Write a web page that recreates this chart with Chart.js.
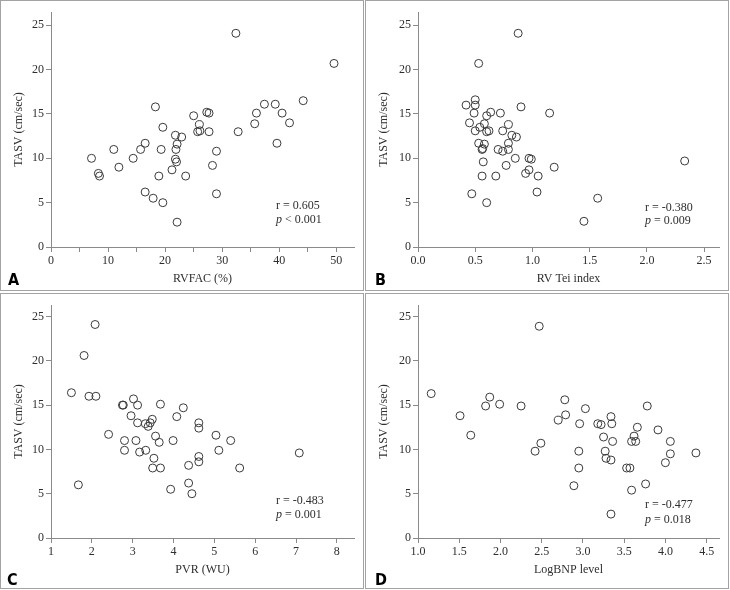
<!DOCTYPE html>
<html>
<head>
<meta charset="utf-8">
<script src="https://cdn.jsdelivr.net/npm/chart.js@4.4.0/dist/chart.umd.min.js"></script>
<style>
body { margin: 0; background: #fff; }
#wrap { position: relative; width: 730px; height: 590px; }
.panel { position: absolute; border: 1.5px solid #a3a3a3; box-sizing: border-box; }
canvas { position: absolute; }
</style>
</head>
<body>
<div id="wrap">
  <div class="panel" style="left:0;top:0;width:364px;height:291px"></div>
  <div class="panel" style="left:365px;top:0;width:364px;height:291px"></div>
  <div class="panel" style="left:0;top:293px;width:364px;height:296px"></div>
  <div class="panel" style="left:365px;top:293px;width:364px;height:296px"></div>
  <canvas id="chartA" width="364" height="291" style="left:0;top:0"></canvas>
  <canvas id="chartB" width="364" height="291" style="left:365px;top:0"></canvas>
  <canvas id="chartC" width="364" height="296" style="left:0;top:293px"></canvas>
  <canvas id="chartD" width="364" height="296" style="left:365px;top:293px"></canvas>
</div>
<script>
// A: RVFAC vs TASV
const rvfac = [32.4, 49.6, 44.2, 37.4, 39.3, 18.3, 27.3, 27.7, 36.0, 40.5, 25.0, 41.8, 35.7, 26.0, 19.6,
  25.7, 26.1, 27.7, 32.8, 21.8, 22.9, 16.5, 22.1, 39.6, 11.0, 15.7, 19.3, 21.9, 29.0, 7.1, 14.4, 21.8,
  22.0, 11.9, 28.3, 21.2, 8.3, 8.5, 18.9, 23.6, 16.5, 29.0, 17.9, 19.6, 22.1];
const tasvA = [24.1, 20.7, 16.5, 16.1, 16.1, 15.8, 15.2, 15.1, 15.1, 15.1, 14.8, 14.0, 13.9, 13.8, 13.5,
  13.0, 13.1, 13.0, 13.0, 12.6, 12.4, 11.7, 11.6, 11.7, 11.0, 11.0, 11.0, 11.0, 10.8, 10.0, 10.0, 9.9,
  9.6, 9.0, 9.2, 8.7, 8.3, 8.0, 8.0, 8.0, 6.2, 6.0, 5.5, 5.0, 2.8];

// B: RV Tei index vs TASV
const teiIndex = [0.875, 0.53, 0.50, 0.42, 0.50, 0.90, 0.49, 0.635, 0.72, 1.15, 0.60, 0.45, 0.58, 0.79,
  0.54, 0.50, 0.62, 0.60, 0.74, 0.82, 0.86, 0.53, 0.58, 0.79, 0.56, 0.70, 0.79, 0.74, 0.565, 0.85, 0.97,
  0.99, 0.57, 1.19, 0.77, 0.97, 0.94, 0.56, 0.68, 1.05, 1.04, 0.47, 1.57, 0.60, 1.45, 2.33];
const tasvB = [24.1, 20.7, 16.6, 16.0, 16.0, 15.8, 15.1, 15.2, 15.1, 15.1, 14.8, 14.0, 13.9, 13.8,
  13.5, 13.1, 13.1, 13.0, 13.1, 12.6, 12.4, 11.7, 11.6, 11.7, 11.0, 11.0, 11.0, 10.8, 11.1, 10.0, 10.0,
  9.9, 9.6, 9.0, 9.2, 8.7, 8.3, 8.0, 8.0, 8.0, 6.2, 6.0, 5.5, 5.0, 2.9, 9.7];

// C: PVR vs TASV
const pvr = [2.08, 1.81, 1.50, 1.93, 2.10, 2.75, 2.77, 3.02, 3.12, 3.68, 4.24, 2.96, 4.08, 3.48, 3.12,
  3.31, 3.43, 3.38, 4.62, 4.62, 2.41, 3.56, 5.04, 2.80, 3.08, 3.99, 5.40, 3.65, 2.80, 3.32, 5.11, 3.17,
  7.08, 3.52, 4.62, 4.62, 3.49, 3.68, 4.37, 5.62, 1.67, 4.37, 3.93, 4.45];
const tasvC = [24.1, 20.6, 16.4, 16.0, 16.0, 15.0, 15.0, 15.7, 15.0, 15.1, 14.7, 13.8, 13.7, 13.4, 13.0,
  12.9, 13.0, 12.6, 13.0, 12.4, 11.7, 11.5, 11.6, 11.0, 11.0, 11.0, 11.0, 10.8, 9.9, 9.9, 9.9, 9.7,
  9.6, 9.0, 9.2, 8.6, 7.9, 7.9, 8.2, 7.9, 6.0, 6.2, 5.5, 5.0];

// D: LogBNP vs TASV
const logBnp = [2.47, 1.16, 1.87, 1.82, 1.99, 2.25, 2.78, 3.78, 3.03, 1.51, 2.79, 2.70, 2.96, 3.18, 3.22,
  3.34, 3.35, 3.66, 3.91, 1.64, 3.25, 3.62, 2.49, 3.36, 3.59, 3.64, 4.06, 2.42, 2.95, 3.27, 3.28, 3.34,
  4.06, 4.37, 4.00, 2.95, 3.53, 3.57, 2.89, 3.76, 3.59, 3.34];
const tasvD = [23.9, 16.3, 15.9, 14.9, 15.1, 14.9, 15.6, 14.9, 14.6, 13.8, 13.9, 13.3, 12.9, 12.9, 12.8,
  13.7, 12.9, 12.5, 12.2, 11.6, 11.4, 11.5, 10.7, 10.9, 10.9, 10.9, 10.9, 9.8, 9.8, 9.8, 9.0, 8.8,
  9.5, 9.6, 8.5, 7.9, 7.9, 7.9, 5.9, 6.1, 5.4, 2.7];

const yTicks = [0, 5, 10, 15, 20, 25];
const statsText = {
  A: ['r = 0.605', 'p', ' < 0.001'],
  B: ['r = -0.380', 'p', ' = 0.009'],
  C: ['r = -0.483', 'p', ' = 0.001'],
  D: ['r = -0.477', 'p', ' = 0.018']
};

const SERIF = "'Liberation Serif', 'DejaVu Serif', serif";
const AXIS_COLOR = '#8a8a8a';
const TEXT_COLOR = '#2e2e2e';

function makeScatter(id, cfg) {
    const ctx = document.getElementById(id);
    const points = cfg.x.map((v, i) => ({ x: v, y: cfg.y[i] }));

    // r / p text and panel letter
    const overlay = {
        id: 'overlay' + id,
        afterDraw(chart) {
            const c = chart.ctx;
            c.save();
            c.fillStyle = TEXT_COLOR;
            c.textBaseline = 'middle';
            c.textAlign = 'left';
            c.font = '12px ' + SERIF;
            c.fillText(cfg.stats[0], cfg.statX, cfg.statY);
            c.font = 'italic 12px ' + SERIF;
            c.fillText(cfg.stats[1], cfg.statX, cfg.statY + cfg.statGap);
            const w = c.measureText(cfg.stats[1]).width;
            c.font = '12px ' + SERIF;
            c.fillText(cfg.stats[2], cfg.statX + w, cfg.statY + cfg.statGap);

            c.fillStyle = '#000';
            c.textBaseline = 'alphabetic';
            c.font = "bold 16px 'Liberation Sans Narrow', 'DejaVu Sans Condensed', sans-serif";
            c.fillText(cfg.letter, cfg.letterX, cfg.letterY);
            c.restore();
        }
    };

    new Chart(ctx, {
        type: 'scatter',
        data: {
            datasets: [{
                data: points,
                pointStyle: 'circle',
                pointRadius: 4,
                pointHoverRadius: 4,
                pointBorderWidth: 1,
                borderColor: '#3a3a3a',
                backgroundColor: 'rgba(0,0,0,0)'
            }]
        },
        options: {
            responsive: false,
            animation: false,
            events: [],
            layout: { padding: { left: 0, top: cfg.top, right: cfg.right, bottom: 0 } },
            plugins: { legend: { display: false }, tooltip: { enabled: false } },
            scales: {
                x: {
                    type: 'linear',
                    min: cfg.xMin,
                    max: cfg.xMax,
                    afterFit: s => { s.height = cfg.xHeight; },
                    border: { display: true, color: AXIS_COLOR, width: 1 },
                    grid: { display: true, drawOnChartArea: false, drawTicks: true, tickLength: 5, color: AXIS_COLOR },
                    ticks: {
                        stepSize: cfg.xStep,
                        includeBounds: false,
                        autoSkip: false,
                        maxRotation: 0,
                        padding: 2,
                        color: TEXT_COLOR,
                        font: { family: SERIF, size: 12 },
                        callback: cfg.xLabel
                    },
                    title: {
                        display: true,
                        text: cfg.xTitle,
                        color: TEXT_COLOR,
                        font: { family: SERIF, size: 12 },
                        padding: { top: 0, bottom: cfg.xTitlePad }
                    }
                },
                y: {
                    type: 'linear',
                    min: 0,
                    max: cfg.yMax,
                    afterFit: s => { s.width = cfg.left; },
                    afterBuildTicks: s => { s.ticks = yTicks.map(v => ({ value: v })); },
                    border: { display: true, color: AXIS_COLOR, width: 1 },
                    grid: { display: true, drawOnChartArea: false, drawTicks: true, tickLength: 5, color: AXIS_COLOR },
                    ticks: {
                        padding: 2,
                        color: TEXT_COLOR,
                        font: { family: SERIF, size: 12 }
                    },
                    title: {
                        display: true,
                        text: 'TASV (cm/sec)',
                        color: TEXT_COLOR,
                        font: { family: SERIF, size: 12 },
                        padding: { top: 12, bottom: 0 }
                    }
                }
            }
        },
        plugins: [overlay]
    });
}

const intLabel = v => (v % 10 === 0 ? String(v) : '');
const oneDec = v => v.toFixed(1);

makeScatter('chartA', {
    x: rvfac, y: tasvA, xMin: 0, xMax: 53.1, xStep: 5, xLabel: intLabel, xTitle: 'RVFAC (%)',
    yMax: 26.5, left: 51, top: 12, right: 10, xHeight: 44, xTitlePad: 5,
    stats: statsText.A, statX: 276, statY: 206, statGap: 14,
    letter: 'A', letterX: 8, letterY: 285
});
makeScatter('chartB', {
    x: teiIndex, y: tasvB, xMin: 0, xMax: 2.63, xStep: 0.5, xLabel: oneDec, xTitle: 'RV Tei index',
    yMax: 26.5, left: 53, top: 12, right: 10, xHeight: 44, xTitlePad: 5,
    stats: statsText.B, statX: 280, statY: 208, statGap: 13,
    letter: 'B', letterX: 10, letterY: 285
});
makeScatter('chartC', {
    x: pvr, y: tasvC, xMin: 1, xMax: 8.42, xStep: 1, xLabel: v => String(v), xTitle: 'PVR (WU)',
    yMax: 26.3, left: 51, top: 12, right: 10, xHeight: 51, xTitlePad: 12,
    stats: statsText.C, statX: 276, statY: 208, statGap: 14,
    letter: 'C', letterX: 7, letterY: 292
});
makeScatter('chartD', {
    x: logBnp, y: tasvD, xMin: 1, xMax: 4.65, xStep: 0.5, xLabel: oneDec, xTitle: 'LogBNP level',
    yMax: 26.3, left: 53, top: 12, right: 10, xHeight: 51, xTitlePad: 12,
    stats: statsText.D, statX: 280, statY: 212, statGap: 15,
    letter: 'D', letterX: 10, letterY: 292
});
</script>
</body>
</html>
